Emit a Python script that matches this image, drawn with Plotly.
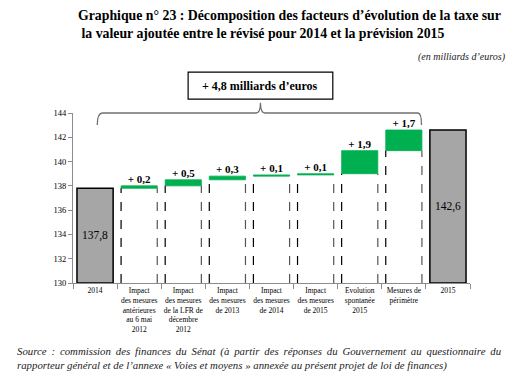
import plotly.graph_objects as go

categories = [
    "2014",
    "Impact<br>des mesures<br>antérieures<br>au 6 mai<br>2012",
    "Impact<br>des mesures<br>de la LFR de<br>décembre<br>2012",
    "Impact<br>des mesures<br>de 2013",
    "Impact<br>des mesures<br>de 2014",
    "Impact<br>des mesures<br>de 2015",
    "Evolution<br>spontanée<br>2015",
    "Mesures de<br>périmètre",
    "2015",
]
start_total = 137.8
deltas = [0.2, 0.5, 0.3, 0.1, 0.1, 1.9, 1.7]
end_total = 142.6
total_change_label = "+ 4,8 milliards d’euros"
y_min, y_max = 130, 144

SERIF = "Liberation Serif"
GREY = "#a6a6a6"
GREEN = "#00b050"

def fr(v):
    return f"{v:.1f}".replace(".", ",")

bases = []
acc = start_total
for d in deltas:
    bases.append(acc)
    acc += d

mid_cats = categories[1:-1]

fig = go.Figure()

fig.add_trace(go.Bar(
    x=[categories[0], categories[-1]],
    y=[start_total - y_min, end_total - y_min],
    base=[y_min, y_min],
    marker=dict(color=GREY, line=dict(color="black", width=1.5)),
    text=[fr(start_total), fr(end_total)],
    textposition="inside", insidetextanchor="middle",
    textfont=dict(family=SERIF, size=11.5, color="black"),
    hoverinfo="skip",
))
fig.add_trace(go.Bar(
    x=mid_cats,
    y=[b - y_min for b in bases],
    base=[y_min] * len(bases),
    marker=dict(color="white", line=dict(width=0)),
    hoverinfo="skip",
))
fig.add_trace(go.Bar(
    x=mid_cats,
    y=deltas,
    base=bases,
    marker=dict(color=GREEN, line=dict(color=GREEN, width=0.8)),
    hoverinfo="skip",
))
fig.add_trace(go.Scatter(
    x=mid_cats,
    y=[b + d for b, d in zip(bases, deltas)],
    mode="text",
    text=["<b>+ " + fr(d) + "</b>" for d in deltas],
    textposition="top center",
    textfont=dict(family=SERIF, size=11, color="black"),
    hoverinfo="skip",
))

half = 0.41
shapes = []
for i, b in enumerate(bases, start=1):
    shapes.append(dict(type="line", xref="x", yref="y", x0=i - half, x1=i - half,
                       y0=y_min, y1=b, layer="above",
                       line=dict(color="black", width=1.2, dash="dash")))
    shapes.append(dict(type="line", xref="x", yref="y", x0=i + half, x1=i + half,
                       y0=y_min, y1=b, layer="above",
                       line=dict(color="#555555", width=1.2, dash="dash")))

xl, xr, xm = 0.05, 7.4, 3.75
brace = (f"M {xl},0.93 Q {xl},1.0 {xl+0.12},1.0 L {xm-0.1},1.0 Q {xm},1.0 {xm},1.06 "
         f"Q {xm},1.0 {xm+0.1},1.0 L {xr-0.08},1.0 Q {xr},1.0 {xr},0.93")
shapes.append(dict(type="path", xref="x", yref="paper", path=brace,
                   line=dict(color="#707070", width=1.3)))
shapes.append(dict(type="rect", xref="x", yref="paper", x0=2.11, x1=5.39, y0=1.082, y1=1.241,
                   line=dict(color="black", width=1.2), fillcolor="white"))

THIN = "\u2009"
src1 = "Source : commission des finances du Sénat (à partir des réponses du Gouvernement au questionnaire du"
src1 = (" " + THIN).join(src1.split(" "))
src2 = "rapporteur général et de l’annexe « Voies et moyens » annexée au présent projet de loi de finances)"

annotations = [
    dict(xref="x", yref="paper", x=3.75, y=1.16, text="<b>" + total_change_label + "</b>",
         showarrow=False,
         font=dict(family=SERIF, size=12, color="black"), xanchor="center", yanchor="middle"),
    dict(xref="paper", yref="paper", x=(76 - 73) / 397, y=1 + (113 - 6) / 170,
         text="<b>Graphique n° 23 : Décomposition des facteurs d’évolution de la taxe sur</b><br>"
              "<b> la valeur ajoutée entre le révisé pour 2014 et la prévision 2015</b>",
         showarrow=False, align="left", xanchor="left", yanchor="top",
         font=dict(family=SERIF, size=13.8, color="black")),
    dict(xref="paper", yref="paper", x=(508 - 73) / 397, y=1 + (113 - 57) / 170,
         text="<i>(en milliards d’euros)</i>", showarrow=False, xanchor="right", yanchor="middle",
         font=dict(family=SERIF, size=10, color="#222")),
    dict(xref="paper", yref="paper", x=(15 - 73) / 397, y=-(343 - 283) / 170,
         text="<i>" + src1 + "</i><br><i>" + src2 + "</i>",
         showarrow=False, align="left", xanchor="left", yanchor="top",
         font=dict(family=SERIF, size=10.8, color="#222")),
]

# page body has an 8px default margin: figure is 507x374 placed at (8, 8)
fig.update_layout(
    width=507, height=374,
    margin=dict(l=65, r=45, t=105, b=99),
    paper_bgcolor="white", plot_bgcolor="white",
    barmode="overlay", bargap=0.18,
    showlegend=False,
    shapes=shapes,
    annotations=annotations,
    font=dict(family=SERIF, color="black"),
)
fig.update_xaxes(
    type="category", categoryorder="array", categoryarray=categories,
    showline=True, linecolor="#8c8c8c", linewidth=1,
    ticks="outside", tickson="boundaries", ticklen=5, tickcolor="#8c8c8c",
    tickangle=0, automargin=False,
    tickfont=dict(family=SERIF, size=7.5, color="black"),
    showgrid=False, zeroline=False,
)
fig.update_yaxes(
    range=[y_min, y_max], dtick=2, automargin=False,
    showline=True, linecolor="#8c8c8c", linewidth=1,
    ticks="outside", ticklen=4, tickcolor="#8c8c8c",
    tickfont=dict(family=SERIF, size=8.5, color="black"),
    showgrid=False, zeroline=False,
)

fig.write_html("out.html")
